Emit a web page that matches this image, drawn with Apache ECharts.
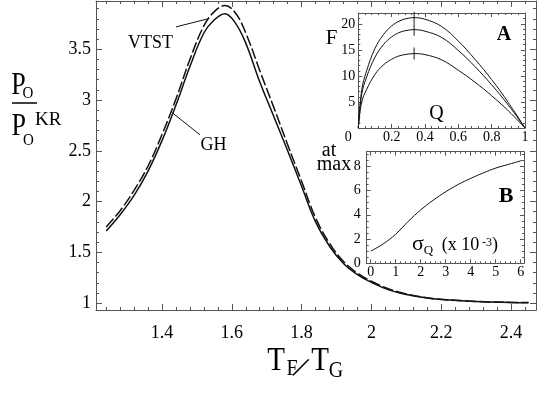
<!DOCTYPE html>
<html>
<head>
<meta charset="utf-8">
<script src="https://cdn.jsdelivr.net/npm/echarts@6.0.0/dist/echarts.min.js"></script>
<style>
html, body { margin: 0; padding: 0; background: #fff; }
#chart { width: 537px; height: 393px; }
</style>
</head>
<body>
<div id="chart"></div>
<script>
const SERIF = "'Liberation Serif', 'Times New Roman', 'DejaVu Serif', serif";
const FRAME = "#555";
const INK = "#111";

// main plot: P_O / P_O^KR against T_F / T_G
const tfRatio = [1.24, 1.28, 1.32, 1.36, 1.40, 1.44, 1.48, 1.52, 1.55, 1.58, 1.61, 1.64, 1.68, 1.72,
	1.76, 1.80, 1.84, 1.88, 1.92, 1.96, 2.00, 2.05, 2.10, 2.15, 2.20, 2.30, 2.40, 2.45];
const ghRatio = [1.71, 1.87, 2.06, 2.30, 2.60, 2.95, 3.33, 3.66, 3.79, 3.85, 3.76, 3.56, 3.18, 2.84,
	2.50, 2.15, 1.80, 1.56, 1.39, 1.28, 1.205, 1.13, 1.085, 1.055, 1.035, 1.015, 1.006, 1.004];
const vtstRatio = [1.75, 1.91, 2.11, 2.35, 2.66, 3.01, 3.40, 3.73, 3.87, 3.93, 3.86, 3.66, 3.29, 2.93,
	2.56, 2.20, 1.84, 1.59, 1.41, 1.295, 1.215, 1.14, 1.09, 1.058, 1.037, 1.016, 1.007, 1.005];
const mainXLabels = [1.4, 1.6, 1.8, 2, 2.2, 2.4];
const mainYLabels = [1, 1.5, 2, 2.5, 3, 3.5];
const vtstLeader = [[1.440, 3.72], [1.532, 3.80]];
const ghLeader = [[1.430, 2.873], [1.509, 2.657]];

// inset A: F against Q
const qValues = [0, 0.02, 0.05, 0.1, 0.15, 0.2, 0.25, 0.3, 0.335, 0.4, 0.5, 0.6, 0.7, 0.8, 0.9, 1];
const fTop = [0, 7.2, 11.0, 15.3, 17.9, 19.6, 20.6, 21.1, 21.2, 20.9, 19.5, 16.7, 13.2, 9.3, 4.9, 0];
const fMid = [0, 6.4, 9.8, 13.6, 16.0, 17.5, 18.4, 18.8, 18.9, 18.6, 17.4, 14.9, 11.8, 8.3, 4.4, 0];
const fLow = [0, 4.9, 7.4, 10.3, 12.1, 13.2, 13.9, 14.2, 14.3, 14.1, 13.1, 11.1, 8.8, 6.2, 3.3, 0];
const peakQ = [0.335, 0.335, 0.335];
const peakF = [21.2, 18.9, 14.3];
const aXLabels = [0, 0.2, 0.4, 0.6, 0.8, 1];
const aYLabels = [5, 10, 15, 20];

// inset B: value at max against sigma_Q
const sigmaQ = [0, 0.5, 1, 1.5, 2, 2.5, 3, 3.5, 4, 4.5, 5, 5.5, 6, 6.05];
const atMax = [1.0, 1.6, 2.4, 3.45, 4.4, 5.2, 5.9, 6.5, 7.0, 7.45, 7.85, 8.15, 8.45, 8.5];
const bXLabels = [0, 1, 2, 3, 4, 5, 6];
const bYLabels = [0, 2, 4, 6, 8];

function steps(from, to, step) {
	const out = [];
	for (let v = from; v <= to + 1e-9; v += step) out.push(+v.toFixed(3));
	return out;
}
const pairs = (xs, ys) => xs.map((x, i) => [x, ys[i]]);

const xAxes = [];
const yAxes = [];

// four axes per side pair: labelled side (major + minor ticks) and the opposite frame edge
function framed(list, grid, side, min, max, major, minor, len, label) {
	const far = side === "bottom" ? "top" : "right";
	const base = { type: "value", gridIndex: grid, min: min, max: max, splitLine: { show: false } };
	const line = { show: true, onZero: false, lineStyle: { color: FRAME, width: 1 } };
	const noLine = { show: false, onZero: false };
	const tick = (vals, l) => ({ show: true, inside: true, length: l, customValues: vals, lineStyle: { color: FRAME, width: 1 } });
	const first = list.length;
	list.push(
		{ ...base, position: side, axisLine: line, axisTick: tick(major, len), axisLabel: label },
		{ ...base, position: side, axisLine: noLine, axisTick: tick(minor, len / 2), axisLabel: { show: false } },
		{ ...base, position: far, axisLine: line, axisTick: tick(major, len), axisLabel: { show: false } },
		{ ...base, position: far, axisLine: noLine, axisTick: tick(minor, len / 2), axisLabel: { show: false } }
	);
	return first;
}

const lbl = (vals, size, margin, extra) => Object.assign({
	show: true, customValues: vals, margin: margin, color: "#000", fontFamily: SERIF, fontSize: size
}, extra || {});

const mx = framed(xAxes, 0, "bottom", 1.2109, 2.4716, mainXLabels, steps(1.24, 2.44, 0.04), 6, lbl(mainXLabels, 18, 14));
const my = framed(yAxes, 0, "left", 0.932, 3.975, mainYLabels, steps(1, 3.9, 0.1), 6, lbl(mainYLabels, 18, 5));
const ax = framed(xAxes, 1, "bottom", 0, 1, aXLabels, steps(0, 1, 0.04), 4, lbl(aXLabels, 14, 2, {
	formatter: v => (v === 0 ? "{z|0}" : String(v)),
	rich: { z: { padding: [0, 20, 0, 0], fontFamily: SERIF, fontSize: 14, color: "#000" } }
}));
const ay = framed(yAxes, 1, "left", 0, 22.1, aYLabels, steps(0, 22, 1), 4, lbl(aYLabels, 14, 3));
const bx = framed(xAxes, 2, "bottom", -0.16, 6.13, bXLabels, steps(0, 6, 0.2), 4, lbl(bXLabels, 14, 2));
const by = framed(yAxes, 2, "left", 0, 9.2, bYLabels, steps(0, 9, 0.5), 4, lbl(bYLabels, 14, 6));

const leader = pts => ({
	silent: true, symbol: ["none", "none"], label: { show: false },
	lineStyle: { type: "solid", color: INK, width: 1 },
	data: [[{ coord: pts[0] }, { coord: pts[1] }]]
});

const thin = (data, xi, yi) => ({
	type: "line", xAxisIndex: xi, yAxisIndex: yi, data: data, smooth: 0.4, showSymbol: false,
	lineStyle: { color: INK, width: 1 }
});

const T = (text, x, y, size, opt) => Object.assign({
	type: "text", x: x, y: y, silent: true,
	style: { text: text, fill: "#000", font: (opt && opt.bold ? "bold " : "") + size + "px " + SERIF, align: (opt && opt.align) || "center", verticalAlign: "middle" }
}, opt && opt.sy ? { scaleY: opt.sy } : {}, opt && opt.rot ? { rotation: opt.rot } : {});

const graphic = [
	// y title
	T("P", 18.5, 86, 26, { sy: 1.2 }),
	T("O", 28, 93, 15, { sy: 1.18 }),
	{ type: "line", silent: true, shape: { x1: 12, y1: 103, x2: 37, y2: 103 }, style: { stroke: "#000", lineWidth: 1.5 } },
	T("P", 18.8, 126.7, 26, { sy: 1.2 }),
	T("O", 28.3, 140, 15, { sy: 1.18 }),
	T("KR", 48.3, 119.7, 19),
	// x title
	T("T", 276, 361, 29, { sy: 1.15 }),
	T("F", 292, 368.5, 20, { sy: 1.15 }),
	T("/", 300, 369, 32, { rot: -0.45 }),
	T("T", 320, 361, 29, { sy: 1.15 }),
	T("G", 336, 371, 20, { sy: 1.15 }),
	// curve names
	T("VTST", 150.5, 43, 18),
	T("GH", 213.5, 145, 18),
	// inset A
	T("F", 331.5, 38.5, 21),
	T("A", 504, 35, 20, { bold: true }),
	T("Q", 436.5, 113.5, 20),
	// inset B
	T("at", 329, 150.5, 20),
	T("max", 334, 165, 20),
	T("B", 506, 196, 22, { bold: true }),
	T("σ", 418, 244.7, 22),
	T("Q", 428.5, 250.7, 13),
	T("(x 10", 441.7, 245, 18, { align: "left" }),
	T("-3", 482, 242.5, 12, { align: "left" }),
	T(")", 492, 245, 18, { align: "left" })
];

const chart = echarts.init(document.getElementById("chart"));
chart.setOption({
	animation: false,
	backgroundColor: "#fff",
	textStyle: { fontFamily: SERIF },
	grid: [
		{ left: 96, top: 1, width: 440, height: 309, outerBoundsMode: "none" },
		{ left: 358.3, top: 13, width: 166.7, height: 115, outerBoundsMode: "none" },
		{ left: 366.7, top: 151.7, width: 157.3, height: 111.6, outerBoundsMode: "none" }
	],
	xAxis: xAxes,
	yAxis: yAxes,
	graphic: graphic,
	series: [
		{
			type: "line", name: "GH", xAxisIndex: mx, yAxisIndex: my, data: pairs(tfRatio, ghRatio),
			smooth: 0.4, showSymbol: false, lineStyle: { color: INK, width: 1.5 }, markLine: leader(ghLeader)
		},
		{
			type: "line", name: "VTST", xAxisIndex: mx, yAxisIndex: my, data: pairs(tfRatio, vtstRatio),
			smooth: 0.4, showSymbol: false, lineStyle: { color: INK, width: 1.5, type: [11, 3] }, markLine: leader(vtstLeader)
		},
		thin(pairs(qValues, fTop), ax, ay),
		thin(pairs(qValues, fMid), ax, ay),
		thin(pairs(qValues, fLow), ax, ay),
		{
			type: "scatter", xAxisIndex: ax, yAxisIndex: ay, data: pairs(peakQ, peakF),
			symbol: "rect", symbolSize: [1.2, 12], itemStyle: { color: INK }, silent: true
		},
		thin(pairs(sigmaQ, atMax), bx, by)
	]
});
</script>
</body>
</html>
